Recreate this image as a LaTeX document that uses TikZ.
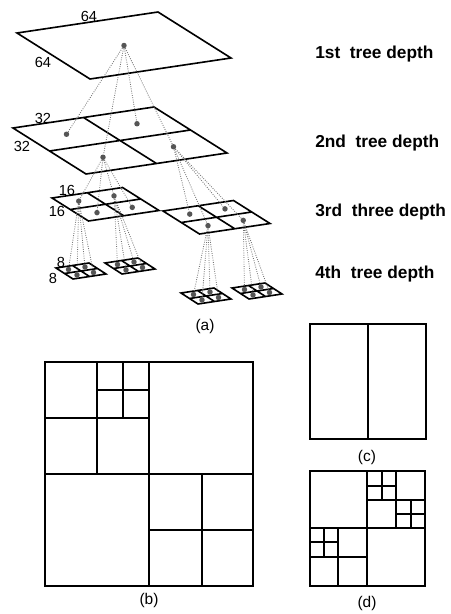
\documentclass[tikz,border=0pt]{standalone}
\usepackage{xcolor}
\usepackage{fontspec}
\setmainfont{Liberation Sans}
\definecolor{dotgray}{RGB}{85,85,85}

\begin{document}
\begin{tikzpicture}[x=0.25mm,y=-0.25mm,
        gridline/.style={line width=1.15pt,line join=miter},
        leafdot/.style={circle,fill=dotgray,inner sep=0pt,minimum size=3.9pt},
        treelink/.style={black!55,densely dotted,line width=0.6pt},
        sizelabel/.style={inner sep=0pt,font=\fontsize{10.4}{12}\selectfont},
        depthlabel/.style={inner sep=0pt,anchor=base west,font=\fontsize{12.3}{14}\selectfont\bfseries},
        caplabel/.style={inner sep=0pt,font=\fontsize{11}{13}\selectfont},
        boxline/.style={line width=1.45pt},
        splitline/.style={line width=1.15pt}]
        \useasboundingbox (0,0) rectangle (451,614);

        \begin{scope}[shift={(17,33)},x={(35.25mm,5.25mm)},y={(18.25mm,-11.5mm)}]
        \draw[gridline] (0,0) -- (1,0) -- (1,1) -- (0,1) -- cycle;
        \node[leafdot] (q1) at (0.5,0.5) {};
        \end{scope}

        \begin{scope}[shift={(13,128)},x={(35.25mm,5.25mm)},y={(18.25mm,-11.5mm)}]
        \draw[gridline] (0,0) -- (1,0) -- (1,1) -- (0,1) -- cycle (0.5,0) -- (0.5,1) (0,0.5) -- (1,0.5);
        \node[leafdot] (q2a) at (0.25,0.25) {};
        \node[leafdot] (q2b) at (0.75,0.25) {};
        \node[leafdot] (q2c) at (0.25,0.75) {};
        \node[leafdot] (q2d) at (0.75,0.75) {};
        \end{scope}

        \begin{scope}[shift={(52,198)},x={(17.625mm,2.625mm)},y={(9.125mm,-5.75mm)}]
        \draw[gridline] (0,0) -- (1,0) -- (1,1) -- (0,1) -- cycle (0.5,0) -- (0.5,1) (0,0.5) -- (1,0.5);
        \node[leafdot] (q3a) at (0.25,0.25) {};
        \node[leafdot] (q3b) at (0.75,0.25) {};
        \node[leafdot] (q3c) at (0.25,0.75) {};
        \node[leafdot] (q3d) at (0.75,0.75) {};
        \end{scope}

        \begin{scope}[shift={(163,211)},x={(17.625mm,2.625mm)},y={(9.125mm,-5.75mm)}]
        \draw[gridline] (0,0) -- (1,0) -- (1,1) -- (0,1) -- cycle (0.5,0) -- (0.5,1) (0,0.5) -- (1,0.5);
        \node[leafdot] (q3e) at (0.25,0.25) {};
        \node[leafdot] (q3f) at (0.75,0.25) {};
        \node[leafdot] (q3g) at (0.25,0.75) {};
        \node[leafdot] (q3h) at (0.75,0.75) {};
        \end{scope}

        \begin{scope}[shift={(56,268)},x={(8.25mm,1.25mm)},y={(4.25mm,-2.75mm)}]
        \draw[gridline] (0,0) -- (1,0) -- (1,1) -- (0,1) -- cycle (0.5,0) -- (0.5,1) (0,0.5) -- (1,0.5);
        \node[leafdot] (q4a) at (0.25,0.25) {};
        \node[leafdot] (q4b) at (0.75,0.25) {};
        \node[leafdot] (q4c) at (0.25,0.75) {};
        \node[leafdot] (q4d) at (0.75,0.75) {};
        \end{scope}

        \begin{scope}[shift={(105,263)},x={(8.25mm,1.25mm)},y={(4.25mm,-2.75mm)}]
        \draw[gridline] (0,0) -- (1,0) -- (1,1) -- (0,1) -- cycle (0.5,0) -- (0.5,1) (0,0.5) -- (1,0.5);
        \node[leafdot] (q4e) at (0.25,0.25) {};
        \node[leafdot] (q4f) at (0.75,0.25) {};
        \node[leafdot] (q4g) at (0.25,0.75) {};
        \node[leafdot] (q4h) at (0.75,0.75) {};
        \end{scope}

        \begin{scope}[shift={(181,293)},x={(8.25mm,1.25mm)},y={(4.25mm,-2.75mm)}]
        \draw[gridline] (0,0) -- (1,0) -- (1,1) -- (0,1) -- cycle (0.5,0) -- (0.5,1) (0,0.5) -- (1,0.5);
        \node[leafdot] (q4i) at (0.25,0.25) {};
        \node[leafdot] (q4j) at (0.75,0.25) {};
        \node[leafdot] (q4k) at (0.25,0.75) {};
        \node[leafdot] (q4l) at (0.75,0.75) {};
        \end{scope}

        \begin{scope}[shift={(232,288)},x={(8.25mm,1.25mm)},y={(4.25mm,-2.75mm)}]
        \draw[gridline] (0,0) -- (1,0) -- (1,1) -- (0,1) -- cycle (0.5,0) -- (0.5,1) (0,0.5) -- (1,0.5);
        \node[leafdot] (q4m) at (0.25,0.25) {};
        \node[leafdot] (q4n) at (0.75,0.25) {};
        \node[leafdot] (q4o) at (0.25,0.75) {};
        \node[leafdot] (q4p) at (0.75,0.75) {};
        \end{scope}

        \draw[treelink] (q1) -- (q2a) (q1) -- (q2b) (q1) -- (q2c) (q1) -- (q2d);
        \draw[treelink] (q2c) -- (q3a) (q2c) -- (q3b) (q2c) -- (q3c) (q2c) -- (q3d);
        \draw[treelink] (q2d) -- (q3e) (q2d) -- (q3f) (q2d) -- (q3g) (q2d) -- (q3h);
        \draw[treelink] (q3a) -- (q4a) (q3a) -- (q4b) (q3a) -- (q4c) (q3a) -- (q4d);
        \draw[treelink] (q3b) -- (q4e) (q3b) -- (q4f) (q3b) -- (q4g) (q3b) -- (q4h);
        \draw[treelink] (q3g) -- (q4i) (q3g) -- (q4j) (q3g) -- (q4k) (q3g) -- (q4l);
        \draw[treelink] (q3h) -- (q4m) (q3h) -- (q4n) (q3h) -- (q4o) (q3h) -- (q4p);

        \node[sizelabel] (s64a) at (89,16) {64};
        \node[sizelabel] (s64b) at (43,62) {64};
        \node[sizelabel] (s32a) at (43,118) {32};
        \node[sizelabel] (s32b) at (22,146) {32};
        \node[sizelabel] (s16a) at (67,190) {16};
        \node[sizelabel] (s16b) at (57,211) {16};
        \node[sizelabel] (s8a) at (61,262) {8};
        \node[sizelabel] (s8b) at (53,278) {8};

        \node[depthlabel] (d1) at (315,58.5) {1st\ \ tree depth};
        \node[depthlabel] (d2) at (315,147) {2nd\ \ tree depth};
        \node[depthlabel] (d3) at (315,216) {3rd\ \ three depth};
        \node[depthlabel] (d4) at (315,278) {4th\ \ tree depth};

        \node[caplabel] (capa) at (205,326) {(a)};

        \draw[boxline] (45,362) rectangle (253,586);
        \draw[splitline] (149,362) -- (149,586) (45,474) -- (253,474);
        \draw[splitline] (97,362) -- (97,474) (45,418) -- (149,418);
        \draw[splitline] (123,362) -- (123,418) (97,390) -- (149,390);
        \draw[splitline] (202,474) -- (202,586) (149,530) -- (253,530);
        \node[caplabel] (capb) at (149,600) {(b)};

        \draw[boxline] (310,324) rectangle (426,439);
        \draw[splitline] (368,324) -- (368,439);
        \node[caplabel] (capc) at (367,457) {(c)};

        \draw[boxline] (310,471) rectangle (425,586);
        \draw[splitline] (367,471) -- (367,586) (310,528) -- (425,528);
        \draw[splitline] (396,471) -- (396,528) (367,500) -- (425,500);
        \draw[splitline] (382,471) -- (382,500) (367,486) -- (396,486);
        \draw[splitline] (411,500) -- (411,528) (396,514) -- (425,514);
        \draw[splitline] (338,528) -- (338,586) (310,557) -- (367,557);
        \draw[splitline] (324,528) -- (324,557) (310,542) -- (338,542);
        \node[caplabel] (capd) at (367,603) {(d)};
\end{tikzpicture}
\end{document}
